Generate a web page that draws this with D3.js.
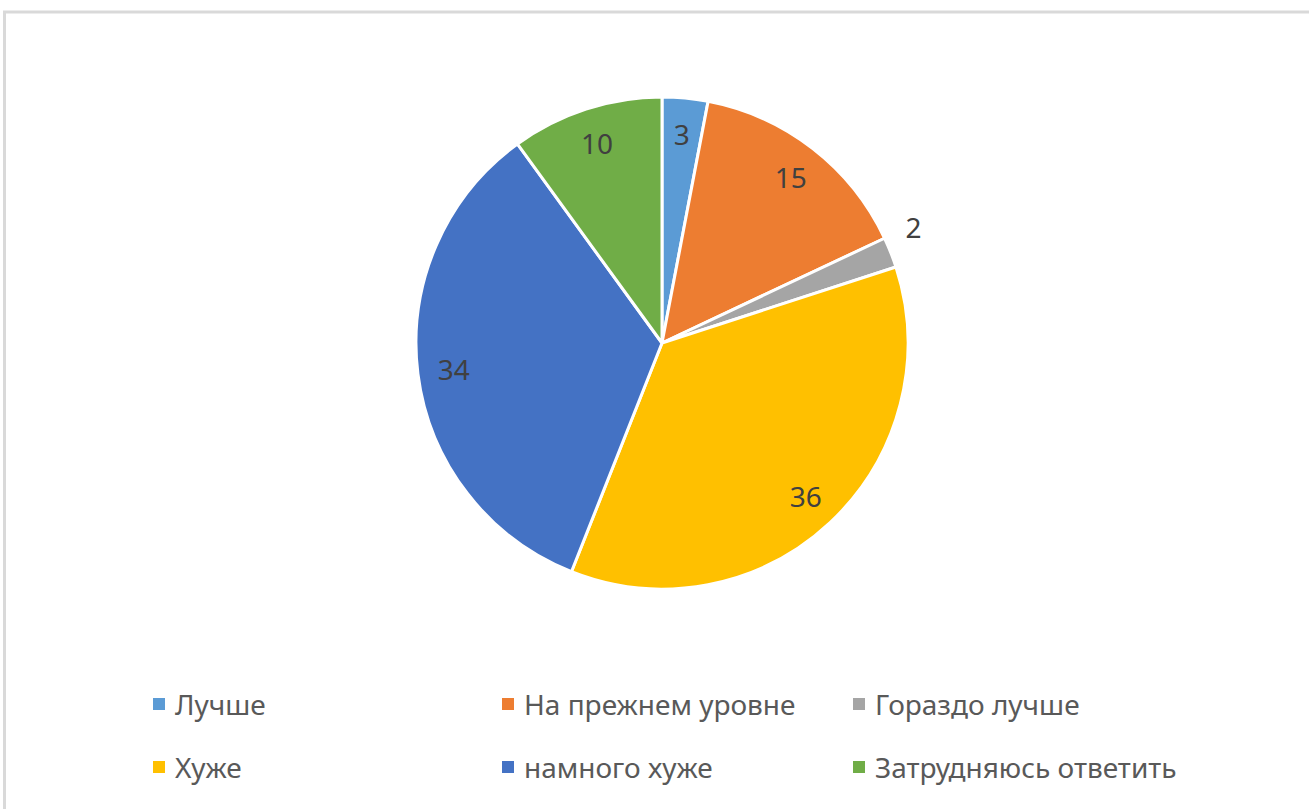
<!DOCTYPE html>
<html>
<head>
<meta charset="utf-8">
<script src="https://cdn.jsdelivr.net/npm/d3@7"></script>
<style>
    html, body { margin: 0; padding: 0; background: #fff; }
    svg { display: block; }
    .label { font-family: "Noto Sans", "Open Sans", sans-serif; }
</style>
</head>
<body>
<script>
// Survey answers, clockwise from 12 o'clock
const categories = ["Лучше", "На прежнем уровне", "Гораздо лучше", "Хуже", "намного хуже", "Затрудняюсь ответить"];
const values = [3, 15, 2, 36, 34, 10];
const colors = ["#5b9bd5", "#ed7d31", "#a5a5a5", "#ffc000", "#4472c4", "#70ad47"];

const width = 1309, height = 809;
const cx = 662, cy = 343, radius = 246;

const svg = d3.select("body").append("svg")
    .attr("width", width)
    .attr("height", height);

// chart frame (only top and left edges are visible in the crop)
svg.append("rect")
    .attr("x", 4.5).attr("y", 12)
    .attr("width", width + 10).attr("height", height + 10)
    .attr("fill", "#fff")
    .attr("stroke", "#d9d9d9")
    .attr("stroke-width", 3);

const data = categories.map((c, i) => ({ name: c, value: values[i], color: colors[i] }));

const pie = d3.pie().sort(null).value(d => d.value);
const arcs = pie(data);

const arc = d3.arc().innerRadius(0).outerRadius(radius);
const labelArc = d3.arc().innerRadius(210).outerRadius(210);
const outerLabelArc = d3.arc().innerRadius(262).outerRadius(262);

const g = svg.append("g").attr("transform", `translate(${cx},${cy})`);

g.selectAll(".slice")
    .data(arcs)
    .enter().append("path")
    .attr("class", "slice")
    .attr("d", arc)
    .attr("fill", d => d.data.color)
    .attr("stroke", "#fff")
    .attr("stroke-width", 3)
    .attr("stroke-linejoin", "round");

// tiny slices get their label outside the pie
const isSmall = d => d.data.value < 3;

g.selectAll(".pie-label")
    .data(arcs)
    .enter().append("text")
    .attr("class", "label pie-label")
    .attr("transform", d => {
        const p = isSmall(d) ? outerLabelArc.centroid(d) : labelArc.centroid(d);
        return `translate(${p[0]},${p[1]})`;
    })
    .attr("text-anchor", d => isSmall(d) ? "start" : "middle")
    .attr("dominant-baseline", d => isSmall(d) ? "auto" : "central")
    .attr("dy", d => isSmall(d) ? "-0.3em" : null)
    .attr("font-size", 28)
    .attr("fill", "#404040")
    .text(d => d.data.value);

// legend: 3 columns x 2 rows
const colX = [153, 502, 853];
const rowY = d3.scalePoint().domain([0, 1]).range([704, 767]);

const legend = svg.selectAll(".legend-item")
    .data(data)
    .enter().append("g")
    .attr("class", "legend-item")
    .attr("transform", (d, i) => `translate(${colX[i % 3]},${rowY(Math.floor(i / 3))})`);

legend.append("rect")
    .attr("x", 0).attr("y", -6)
    .attr("width", 12).attr("height", 12)
    .attr("fill", d => d.color);

legend.append("text")
    .attr("class", "label")
    .attr("x", 22)
    .attr("y", 0)
    .attr("dominant-baseline", "central")
    .attr("font-size", 28)
    .attr("fill", "#595959")
    .text(d => d.name);
</script>
</body>
</html>
